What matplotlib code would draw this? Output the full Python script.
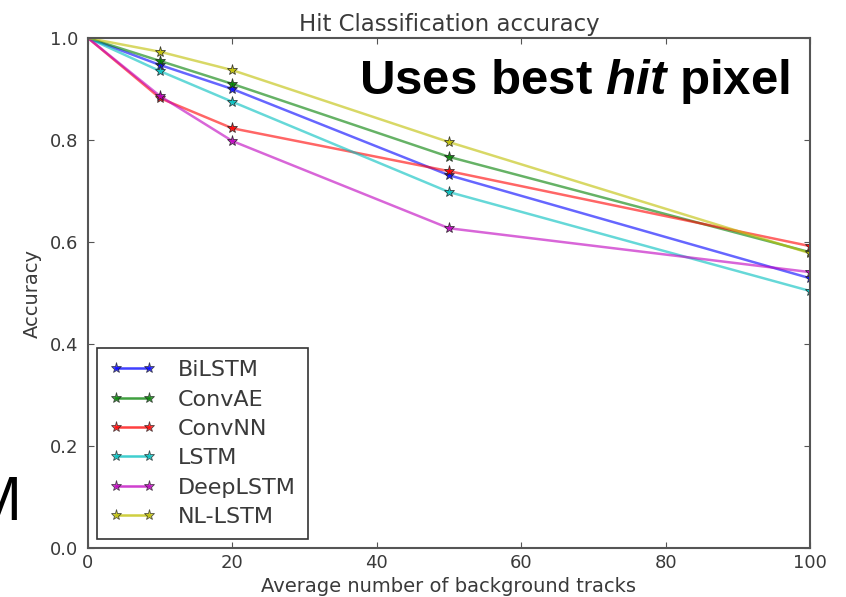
import matplotlib
matplotlib.use("Agg")
import matplotlib.pyplot as plt

# background tracks per event
tracks = [0, 10, 20, 50, 100]

bilstm = [1.0, 0.947, 0.900, 0.731, 0.529]
convae = [1.0, 0.955, 0.910, 0.767, 0.580]
convnn = [1.0, 0.882, 0.823, 0.739, 0.592]
lstm = [1.0, 0.935, 0.875, 0.698, 0.504]
deeplstm = [1.0, 0.886, 0.798, 0.627, 0.541]
nllstm = [1.0, 0.973, 0.937, 0.796, 0.578]

series = [
    ("BiLSTM", bilstm, "b"),
    ("ConvAE", convae, "g"),
    ("ConvNN", convnn, "r"),
    ("LSTM", lstm, "c"),
    ("DeepLSTM", deeplstm, "m"),
    ("NL-LSTM", nllstm, "y"),
]

plt.rcParams["mathtext.fontset"] = "custom"
plt.rcParams["mathtext.it"] = "Liberation Sans:italic:bold"
plt.rcParams["mathtext.rm"] = "Liberation Sans:bold"

txt = "#3a3a3a"
edge = "#555555"

fig = plt.figure(figsize=(8.46, 5.97), dpi=100)
ax = fig.add_axes([0.104, 0.0821, 0.8534, 0.8542])

for name, vals, col in series:
    ax.plot(tracks, vals, color=col, alpha=0.6, lw=1.8, label=name)
    ax.plot(tracks[1:], vals[1:], ls="none", marker="*", ms=8,
            mfc=col, mec="#222222", mew=0.6, alpha=0.85)

# legend handles: line with a star at each end
handles = [plt.Line2D([0], [0], color=col, lw=1.8, marker="*", ms=8,
                      mfc=col, mec="#222222", mew=0.6)
           for name, vals, col in series]
leg = ax.legend(handles, [s[0] for s in series], loc="lower left",
                numpoints=2, fontsize=16, fancybox=False, framealpha=1,
                edgecolor="#333333", handlelength=2.1, labelspacing=0.42,
                borderpad=0.55, handletextpad=1.0, borderaxespad=0.4)
leg.get_frame().set_linewidth(1.2)
for t in leg.get_texts():
    t.set_color(txt)
for h in leg.get_lines():
    h.set_alpha(0.75)

ax.set_xlim(0, 100)
ax.set_ylim(0.0, 1.0)
ax.set_xticks([0, 20, 40, 60, 80, 100])
ax.set_yticks([0.0, 0.2, 0.4, 0.6, 0.8, 1.0])
ax.set_yticklabels(["0.0", "0.2", "0.4", "0.6", "0.8", "1.0"])
ax.tick_params(direction="in", top=True, right=True, length=4,
               color=edge, labelsize=13, labelcolor=txt, pad=7)
ax.tick_params(axis="x", pad=4)
for sp in ax.spines.values():
    sp.set_color(edge)
    sp.set_linewidth(1.5)

ax.set_title("Hit Classification accuracy", fontsize=16.5, color=txt, pad=5)
ax.set_xlabel("Average number of background tracks", fontsize=14,
              color=txt, labelpad=4)
ax.set_ylabel("Accuracy", fontsize=14, color=txt, labelpad=6)

ax.text(0.972, 0.914, r"Uses best $\mathit{hit}$ pixel", transform=ax.transAxes,
        ha="right", va="center", fontsize=35.5, fontweight="bold",
        family="Liberation Sans", color="black")

fig.text(22 / 846, 1 - 503 / 597, "M", ha="right", va="center",
         fontsize=45, family="Liberation Sans", color="black")

fig.savefig("out.png", dpi=100)
